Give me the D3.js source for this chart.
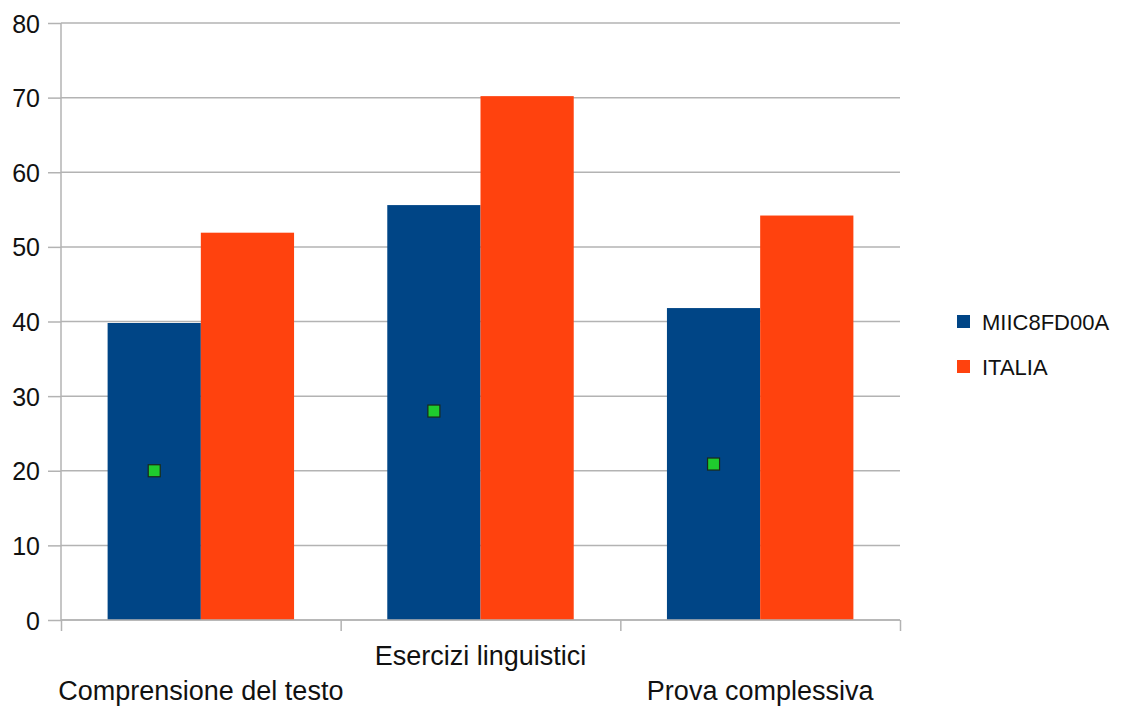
<!DOCTYPE html>
<html>
<head>
<meta charset="utf-8">
<script src="https://cdn.jsdelivr.net/npm/d3@7"></script>
<style>
  html, body { margin: 0; padding: 0; background: #fff; }
  svg { display: block; font-family: "Liberation Sans", Arial, sans-serif; }
</style>
</head>
<body>
<svg id="chart" width="1138" height="707"></svg>
<script>
const categories = ["Comprensione del testo", "Esercizi linguistici", "Prova complessiva"];
const seriesNames = ["MIIC8FD00A", "ITALIA"];
const schoolValues = [39.8, 55.6, 41.8];
const italiaValues = [51.9, 70.2, 54.2];
const markerValues = [20, 28, 20.9];
const yTicks = [0, 10, 20, 30, 40, 50, 60, 70, 80];
const colors = ["#004586", "#ff420e"];

const svg = d3.select("#chart");
const pLeft = 61, pRight = 900, pTop = 23, pBottom = 620;

const x = d3.scaleBand().domain(categories).range([pLeft, pRight]).paddingInner(0).paddingOuter(0);
const xs = d3.scaleBand().domain(seriesNames).range([0, x.bandwidth()]).paddingInner(0).paddingOuter(0.5);
const y = d3.scaleLinear().domain([0, 80]).range([pBottom, pTop]);

// gridlines
svg.append("g").selectAll("line").data(yTicks).join("line")
  .attr("x1", pLeft).attr("x2", pRight)
  .attr("y1", d => y(d)).attr("y2", d => y(d))
  .attr("stroke", "#b3b3b3").attr("stroke-width", 1.5);

// bars
const data = categories.map((c, i) => ({cat: c, vals: [schoolValues[i], italiaValues[i]]}));
const groups = svg.append("g").selectAll("g").data(data).join("g")
  .attr("transform", d => `translate(${x(d.cat)},0)`);
groups.selectAll("rect").data(d => d.vals.map((v, j) => ({name: seriesNames[j], v, j})))
  .join("rect")
  .attr("x", d => xs(d.name))
  .attr("width", xs.bandwidth())
  .attr("y", d => y(d.v))
  .attr("height", d => y(0) - y(d.v))
  .attr("fill", d => colors[d.j]);

// markers
const ms = 12;
svg.append("g").selectAll("rect").data(categories.map((c, i) => ({cat: c, v: markerValues[i]})))
  .join("rect")
  .attr("x", d => x(d.cat) + xs(seriesNames[0]) + xs.bandwidth() / 2 - ms / 2)
  .attr("y", d => y(d.v) - ms / 2)
  .attr("width", ms).attr("height", ms)
  .attr("fill", "#1fcc2e").attr("stroke", "#1a2a1a").attr("stroke-width", 1.2);

// y axis
const yAxis = d3.axisLeft(y).tickValues(yTicks).tickSize(13).tickPadding(8).tickFormat(d3.format("d"));
const ga = svg.append("g").attr("transform", `translate(${pLeft},0)`).call(yAxis);
ga.select(".domain").attr("stroke", "#b3b3b3").attr("stroke-width", 1.5).attr("d", `M0,${pTop}V${pBottom}`);
ga.selectAll(".tick line").attr("stroke", "#b3b3b3").attr("stroke-width", 1.5);
ga.selectAll(".tick text").attr("font-size", 25).attr("fill", "#111").attr("dy", "0.36em")
  .attr("font-family", '"Liberation Sans", Arial, sans-serif');

// x axis
const xb = d3.scaleLinear().domain([0, categories.length]).range([pLeft, pRight]);
const xAxis = d3.axisBottom(xb).tickValues(d3.range(categories.length + 1)).tickSize(11).tickFormat("");
const gx = svg.append("g").attr("transform", `translate(0,${pBottom})`).call(xAxis);
gx.select(".domain").attr("stroke", "#b3b3b3").attr("stroke-width", 1.5).attr("d", `M${pLeft},0H${pRight}`);
gx.selectAll(".tick line").attr("stroke", "#b3b3b3").attr("stroke-width", 1.5);

// category labels (staggered)
const labelBase = [700, 665, 700];
svg.append("g").selectAll("text").data(categories).join("text")
  .attr("x", d => x(d) + x.bandwidth() / 2)
  .attr("y", (d, i) => labelBase[i])
  .attr("text-anchor", "middle")
  .attr("font-size", 27)
  .attr("fill", "#111")
  .text(d => d);

// legend
const lg = svg.append("g").selectAll("g").data(seriesNames).join("g")
  .attr("transform", (d, i) => `translate(957,${315 + i * 45})`);
lg.append("rect").attr("width", 13).attr("height", 13).attr("fill", (d, i) => colors[i]);
lg.append("text").attr("x", 25).attr("y", 15).attr("font-size", 22).attr("fill", "#111").text(d => d);
</script>
</body>
</html>
